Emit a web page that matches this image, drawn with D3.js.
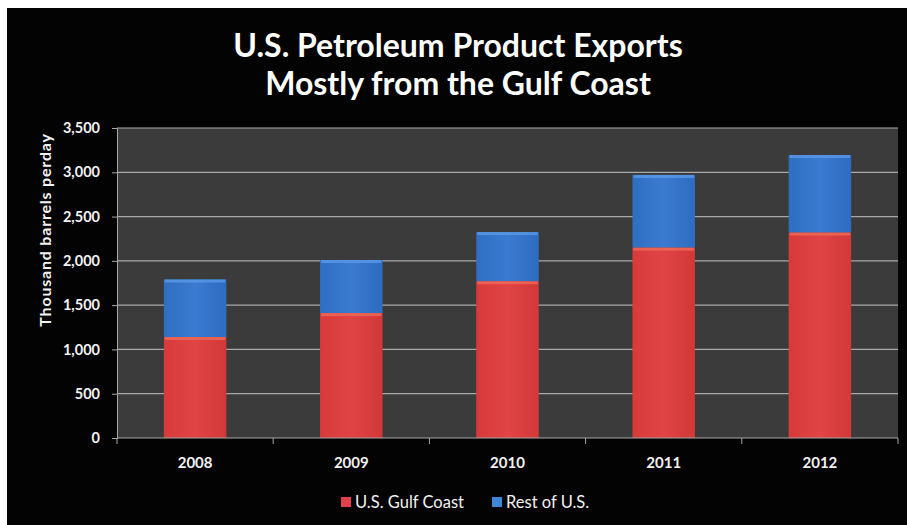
<!DOCTYPE html>
<html><head><meta charset="utf-8">
<script src="https://cdn.jsdelivr.net/npm/d3@7/dist/d3.min.js"></script>
<style>
html,body{margin:0;padding:0;background:#fff;}
svg{display:block;}
</style></head>
<body>
<svg id="c" width="907" height="525"></svg>
<script>
const years = ["2008","2009","2010","2011","2012"];
const gulfCoast = [1140, 1410, 1770, 2150, 2320];
const restOfUS = [650, 600, 555, 820, 875];
const yTicks = [0,500,1000,1500,2000,2500,3000,3500];
const seriesNames = ["U.S. Gulf Coast","Rest of U.S."];

const FONT = "Lato, 'Open Sans', sans-serif";
const svg = d3.select("#c");
svg.append("rect").attr("x",7).attr("y",8).attr("width",900).attr("height",517).attr("fill","#030303");

const defs = svg.append("defs");
function grad(id, c1, c2, c3){
  const g = defs.append("linearGradient").attr("id",id).attr("x1","0").attr("x2","1").attr("y1","0").attr("y2","0");
  g.append("stop").attr("offset","0").attr("stop-color",c1);
  g.append("stop").attr("offset","0.5").attr("stop-color",c2);
  g.append("stop").attr("offset","1").attr("stop-color",c3);
}
grad("gRed","#d83a3a","#e04444","#d23838");
grad("gBlue","#2f6fc2","#3a7ad0","#2d6cc0");

const m = {left:117, right:898, top:128, bottom:438};
const x = d3.scaleBand().domain(years).range([m.left,m.right]).paddingInner(0.6).paddingOuter(0.3);
const y = d3.scaleLinear().domain([0,3500]).range([m.bottom,m.top]);

svg.append("rect").attr("x",m.left).attr("y",m.top).attr("width",m.right-m.left).attr("height",m.bottom-m.top).attr("fill","#3b3b3b");

// gridlines
svg.append("g").selectAll("line").data(yTicks.filter(d=>d>0)).join("line")
  .attr("x1",m.left).attr("x2",m.right).attr("y1",d=>y(d)).attr("y2",d=>y(d))
  .attr("stroke","#a8a8a8").attr("stroke-width",1.2);

// bars
const data = years.map((yr,i)=>({yr, g:gulfCoast[i], r:restOfUS[i]}));
const bars = svg.append("g");
bars.selectAll(".r").data(data).join("rect")
  .attr("x",d=>x(d.yr)).attr("width",x.bandwidth())
  .attr("y",d=>y(d.g)).attr("height",d=>y(0)-y(d.g)).attr("fill","url(#gRed)");
bars.selectAll(".b").data(data).join("rect")
  .attr("x",d=>x(d.yr)).attr("width",x.bandwidth())
  .attr("y",d=>y(d.g+d.r)).attr("height",d=>y(d.g)-y(d.g+d.r)).attr("fill","url(#gBlue)");
// top highlights
bars.selectAll(".hb").data(data).join("rect")
  .attr("x",d=>x(d.yr)+1).attr("width",x.bandwidth()-2)
  .attr("y",d=>y(d.g+d.r)).attr("height",3).attr("fill","#5a9ae6").attr("opacity",0.8);
bars.selectAll(".hr").data(data).join("rect")
  .attr("x",d=>x(d.yr)+1).attr("width",x.bandwidth()-2)
  .attr("y",d=>y(d.g)).attr("height",3).attr("fill","#f06a5a").attr("opacity",0.8);

// y axis
const yAxis = d3.axisLeft(y).tickValues(yTicks).tickSize(5).tickPadding(12).tickFormat(d3.format(","));
const ya = svg.append("g").attr("transform",`translate(${m.left},0)`).call(yAxis);
ya.select(".domain").attr("stroke","#a8a8a8");
ya.selectAll(".tick line").attr("stroke","#a8a8a8");
ya.selectAll("text").attr("fill","#f2f2f2").attr("font-family",FONT).attr("font-size","14.5px").attr("font-weight","bold");

// x axis
const xa = svg.append("g").attr("transform",`translate(0,${m.bottom})`);
xa.append("line").attr("x1",m.left).attr("x2",m.right).attr("stroke","#a8a8a8").attr("stroke-width",1.2);
const bounds = d3.range(0, years.length+1).map(i=> m.left + i*(m.right-m.left)/years.length);
xa.selectAll(".tk").data(bounds).join("line").attr("x1",d=>d).attr("x2",d=>d).attr("y1",0).attr("y2",6).attr("stroke","#a8a8a8");
xa.selectAll("text").data(years).join("text")
  .attr("x",d=>x(d)+x.bandwidth()/2).attr("y",30).attr("text-anchor","middle")
  .attr("fill","#f2f2f2").attr("font-family",FONT).attr("font-size","15px").attr("font-weight","bold").text(d=>d);

// y label
svg.append("text").attr("transform","translate(51,230) rotate(-90)").attr("text-anchor","middle")
  .attr("fill","#f2f2f2").attr("font-family",FONT).attr("font-size","16px").attr("font-weight","bold")
  .attr("letter-spacing","0.8px")
  .text("Thousand barrels perday");

// title
const title = svg.append("text").attr("text-anchor","middle").attr("fill","#ffffff")
  .attr("font-family",FONT).attr("font-size","32px").attr("font-weight","bold");
title.append("tspan").attr("x",458).attr("y",57).text("U.S. Petroleum Product Exports");
title.append("tspan").attr("x",458).attr("y",95).text("Mostly from the Gulf Coast");

// legend
const colors = ["#e0404a","#3f86d6"];
const lg = svg.append("g");
const lx = [341, 492];
seriesNames.forEach((n,i)=>{
  lg.append("rect").attr("x",lx[i]).attr("y",497).attr("width",10).attr("height",10).attr("fill",colors[i]);
  lg.append("text").attr("x",lx[i]+14).attr("y",508).attr("fill","#f2f2f2")
    .attr("font-family",FONT).attr("font-size","16.5px").text(n);
});
</script>
</body></html>
